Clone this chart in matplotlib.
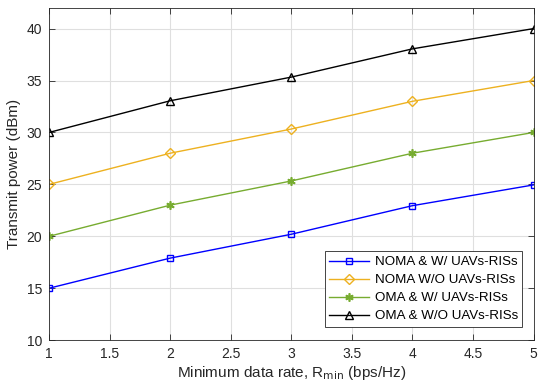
import matplotlib
matplotlib.use("Agg")
import matplotlib.pyplot as plt

rates = [1, 2, 3, 4, 5]
noma_w = [15.0, 17.9, 20.2, 22.95, 24.95]
noma_wo = [25.0, 28.0, 30.33, 33.0, 35.0]
oma_w = [20.0, 23.0, 25.33, 28.0, 30.0]
oma_wo = [30.0, 33.05, 35.33, 38.05, 40.0]
labels = ["NOMA & W/ UAVs-RISs", "NOMA W/O UAVs-RISs",
          "OMA & W/ UAVs-RISs", "OMA & W/O UAVs-RISs"]

plt.rcParams['font.family'] = ['Liberation Sans', 'DejaVu Sans']
fig = plt.figure(figsize=(5.39, 3.91), dpi=100)
ax = fig.add_axes([0.091, 0.13, 0.899, 0.85])

tc = '#262626'
ax.plot(rates, noma_w, '-s', color=(0, 0, 1), lw=1.0, ms=5, mfc='none', mew=1.0, label=labels[0])
ax.plot(rates, noma_wo, '-D', color='#EDB120', lw=1.0, ms=5, mfc='none', mew=1.0, label=labels[1])
ax.plot(rates, oma_w, '-', marker=(6, 2, 0), color='#77AC30', lw=1.0, ms=6, mew=1.2, label=labels[2])
ax.plot(rates, oma_wo, '-^', color='black', lw=1.0, ms=6, mfc='none', mew=1.0, label=labels[3])

ax.set_xlim(1, 5)
ax.set_ylim(10, 42)
ax.set_xticks([1, 1.5, 2, 2.5, 3, 3.5, 4, 4.5, 5])
ax.set_xticklabels(['1', '1.5', '2', '2.5', '3', '3.5', '4', '4.5', '5'])
ax.set_yticks([10, 15, 20, 25, 30, 35, 40])
ax.grid(True, color='#dfdfdf', lw=0.8)
ax.set_axisbelow(True)
ax.tick_params(direction='in', top=True, right=True, colors=tc, labelsize=10, length=4, width=0.6, pad=5)
for s in ax.spines.values():
    s.set_color(tc)
    s.set_linewidth(0.6)

ax.set_xlabel(r'Minimum data rate, R$_{\mathrm{min}}$ (bps/Hz)', fontsize=11, color=tc, labelpad=2)
ax.set_ylabel('Transmit power (dBm)', fontsize=11, color=tc, labelpad=4)

leg = ax.legend(loc='lower right', fontsize=9.6, frameon=True, fancybox=False,
                edgecolor=tc, framealpha=1, borderpad=0.35, labelspacing=0.42,
                handlelength=3.0, handletextpad=0.4, borderaxespad=0.0,
                bbox_to_anchor=(0.977, 0.04))
leg.get_frame().set_linewidth(0.6)

fig.savefig('out.png', dpi=100)
